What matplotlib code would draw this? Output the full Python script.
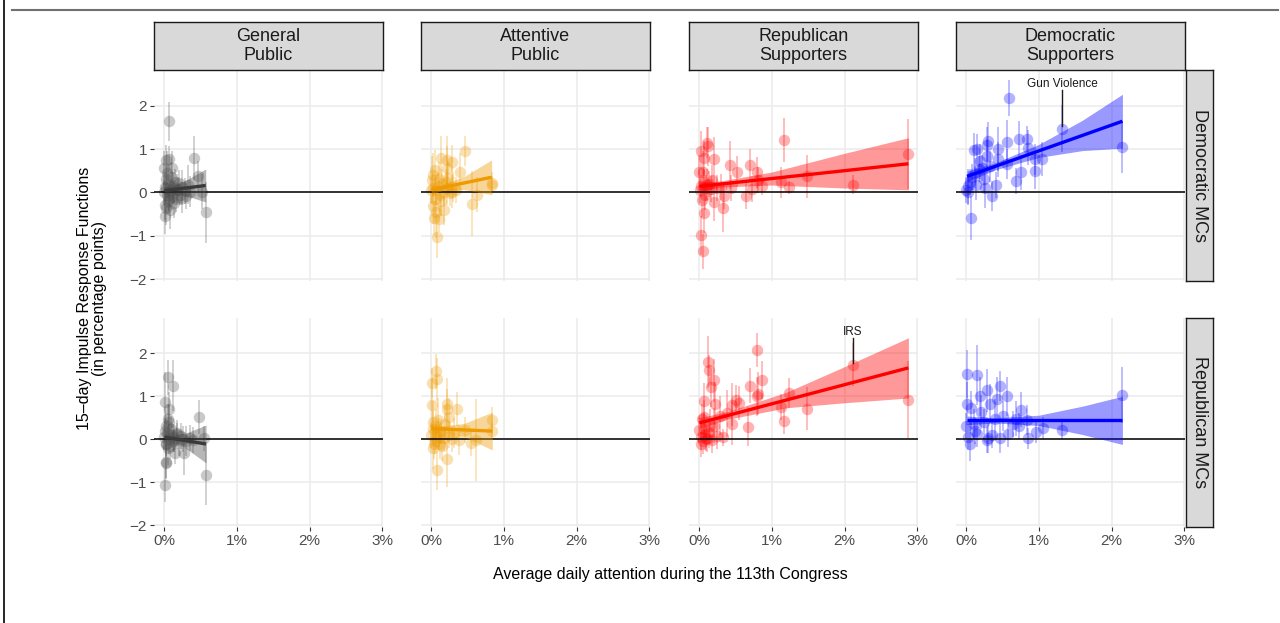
import numpy as np
import matplotlib
matplotlib.use("Agg")
import matplotlib.pyplot as plt
from matplotlib.lines import Line2D

plt.rcParams['font.family'] = ['Liberation Sans', 'DejaVu Sans']

# ---- data: average daily attention (%) vs 15-day IRF (pct points) ----
# General Public / Democratic MCs
gp_dem_x = [0.06, 0.03, 0.07, 0.00, 0.11, 0.41, 0.47, 0.57, 0.01, 0.01, 0.02, 0.04, 0.05, 0.08,
            0.10, 0.12, 0.14, 0.16, 0.18, 0.20, 0.22, 0.25, 0.28, 0.30, 0.33, 0.36, 0.02, 0.03,
            0.05, 0.09, 0.13, 0.15, 0.19, 0.24, 0.00, 0.01, 0.06, 0.08, 0.52, 0.12, 0.04, 0.07]
gp_dem_y = [1.64, 0.75, 0.77, 0.56, 0.56, 0.79, 0.38, -0.46, -0.55, -0.28, 0.10, -0.05, 0.20, 0.05,
            -0.10, 0.15, 0.00, -0.15, 0.08, 0.22, -0.05, 0.12, 0.03, -0.08, 0.18, 0.02, -0.35, 0.30,
            -0.20, 0.35, -0.25, 0.25, 0.05, -0.12, 0.00, 0.12, 0.00, -0.40, 0.02, 0.10, 0.45, -0.15]
gp_dem_se = [0.45, 0.35, 0.3, 0.4, 0.4, 0.5, 0.35, 0.7, 0.4, 0.35, 0.3, 0.3, 0.3, 0.25,
             0.3, 0.3, 0.25, 0.3, 0.35, 0.3, 0.25, 0.4, 0.3, 0.3, 0.45, 0.35, 0.4, 0.3,
             0.3, 0.35, 0.35, 0.3, 0.3, 0.35, 0.3, 0.35, 0.45, 0.45, 0.4, 0.3, 0.5, 0.3]
gp_dem_fit_x = [0.0, 0.57]
gp_dem_fit_y = [0.04, 0.16]
gp_dem_band_x = [0.0, 0.08, 0.3, 0.57]
gp_dem_band = [0.1, 0.07, 0.18, 0.38]

# Attentive Public / Democratic MCs
ap_dem_x = [0.46, 0.14, 0.21, 0.29, 0.05, 0.21, 0.39, 0.01, 0.23, 0.83, 0.84, 0.63, 0.56, 0.02,
            0.17, 0.04, 0.11, 0.08, 0.03, 0.06, 0.09, 0.12, 0.15, 0.18, 0.22, 0.26, 0.30, 0.34,
            0.02, 0.05, 0.10, 0.13, 0.20, 0.28, 0.00, 0.07]
ap_dem_y = [0.96, 0.79, 0.75, 0.69, 0.52, 0.56, 0.46, 0.28, 0.33, 0.18, 0.22, -0.05, -0.26, -0.32,
            -0.40, -0.59, -0.61, -1.02, 0.10, 0.05, 0.15, -0.05, 0.20, 0.02, 0.10, -0.02, 0.12, 0.05,
            0.40, -0.15, 0.30, -0.20, 0.25, 0.00, 0.05, -0.45]
ap_dem_se = [0.35, 0.5, 0.55, 0.4, 0.45, 0.5, 0.45, 0.55, 0.4, 0.2, 0.25, 0.4, 0.75, 0.4,
             0.35, 0.4, 0.3, 0.5, 0.3, 0.35, 0.3, 0.4, 0.35, 0.3, 0.4, 0.3, 0.35, 0.3,
             0.5, 0.45, 0.4, 0.35, 0.3, 0.35, 0.3, 0.6]
ap_dem_fit_x = [0.0, 0.83]
ap_dem_fit_y = [0.06, 0.35]
ap_dem_band_x = [0.0, 0.15, 0.45, 0.83]
ap_dem_band = [0.09, 0.07, 0.15, 0.40]

# Republican Supporters / Democratic MCs
rs_dem_x = [2.88, 1.16, 2.11, 1.49, 1.23, 1.12, 0.86, 0.80, 0.70, 0.81, 0.73, 0.64, 0.52, 0.42,
            0.44, 0.34, 0.33, 0.20, 0.11, 0.12, 0.02, 0.07, 0.00, 0.05, 0.17, 0.20, 0.07, 0.02,
            0.05, 0.04, 0.11, 0.24, 0.30, 0.01, 0.03, 0.06, 0.09, 0.14, 0.16, 0.08]
rs_dem_y = [0.88, 1.21, 0.18, 0.37, 0.12, 0.23, 0.14, 0.46, 0.64, 0.29, 0.08, -0.09, 0.48, 0.63,
            0.10, -0.08, -0.35, 0.77, 1.15, 1.06, 0.96, 0.79, 0.46, 0.46, 0.29, -0.21, -0.48, -0.99,
            -1.36, -0.17, 0.18, 0.10, 0.12, 0.05, 0.15, 0.25, 0.10, 0.20, 0.08, -0.05]
rs_dem_se = [0.8, 0.5, 0.22, 0.5, 0.15, 0.35, 0.2, 0.35, 0.35, 0.3, 0.3, 0.3, 0.35, 0.55,
             0.3, 0.3, 0.55, 0.5, 0.35, 0.45, 0.45, 0.4, 0.4, 0.5, 0.35, 0.45, 0.45, 0.45,
             0.4, 0.4, 0.35, 0.3, 0.3, 0.3, 0.25, 0.3, 0.3, 0.3, 0.3, 0.35]
rs_dem_fit_x = [0.0, 2.88]
rs_dem_fit_y = [0.14, 0.66]
rs_dem_band_x = [0.0, 0.3, 1.0, 2.0, 2.88]
rs_dem_band = [0.1, 0.07, 0.15, 0.40, 0.6]

# Democratic Supporters / Democratic MCs
ds_dem_x = [0.59, 1.32, 2.15, 0.73, 0.83, 0.56, 0.30, 0.29, 0.44, 0.10, 0.15, 0.85, 0.95, 1.04,
            0.19, 0.28, 0.56, 0.76, 0.95, 0.69, 0.41, 0.35, 0.06, 0.03, 0.00, 0.05, 0.14, 0.26,
            0.21, 0.44, 0.08, 0.12, 0.02, 0.18, 0.24, 0.33]
ds_dem_y = [2.18, 1.47, 1.04, 1.24, 1.24, 1.17, 1.18, 1.10, 1.00, 0.97, 1.00, 1.03, 0.76, 0.77,
            0.72, 0.83, 0.66, 0.46, 0.49, 0.27, 0.18, -0.08, -0.59, 0.14, 0.06, 0.25, 0.18, 0.10,
            0.56, 0.76, 0.35, 0.45, 0.00, 0.55, 0.30, 0.60]
ds_dem_se = [0.42, 0.55, 0.6, 0.4, 0.3, 0.5, 0.45, 0.4, 0.5, 0.4, 0.35, 0.4, 0.35, 0.4,
             0.4, 0.4, 0.35, 0.4, 0.4, 0.3, 0.3, 0.35, 0.5, 0.4, 0.3, 0.3, 0.35, 0.45,
             0.3, 0.4, 0.3, 0.35, 0.3, 0.3, 0.3, 0.35]
ds_dem_fit_x = [0.01, 2.15]
ds_dem_fit_y = [0.37, 1.64]
ds_dem_band_x = [0.01, 0.4, 1.0, 1.6, 2.15]
ds_dem_band = [0.12, 0.08, 0.15, 0.35, 0.62]

# General Public / Republican MCs
gp_rep_x = [0.055, 0.115, 0.01, 0.065, 0.475, 0.575, 0.01, 0.02, 0.03, 0.15, 0.27, 0.03, 0.055, 0.54,
            0.00, 0.02, 0.04, 0.06, 0.08, 0.10, 0.12, 0.14, 0.17, 0.20, 0.23, 0.26, 0.30, 0.35,
            0.40, 0.01, 0.05, 0.09, 0.13, 0.18, 0.03, 0.07]
gp_rep_y = [1.44, 1.25, 0.86, 0.71, 0.52, -0.82, -1.07, -0.56, -0.52, -0.33, -0.32, 0.32, 0.48, 0.02,
            0.05, -0.10, 0.15, 0.00, -0.15, 0.10, 0.05, -0.05, 0.12, -0.08, 0.08, 0.00, -0.05, 0.03,
            -0.02, 0.20, -0.20, 0.25, 0.00, 0.15, -0.12, 0.40]
gp_rep_se = [0.4, 0.6, 0.7, 0.4, 0.4, 0.7, 0.4, 0.35, 0.4, 0.25, 0.5, 0.3, 0.35, 0.3,
             0.3, 0.3, 0.3, 0.35, 0.3, 0.3, 0.3, 0.25, 0.25, 0.3, 0.3, 0.3, 0.35, 0.3,
             0.3, 0.3, 0.4, 0.3, 0.3, 0.3, 0.3, 0.4]
gp_rep_fit_x = [0.0, 0.575]
gp_rep_fit_y = [0.05, -0.11]
gp_rep_band_x = [0.0, 0.08, 0.3, 0.575]
gp_rep_band = [0.09, 0.06, 0.18, 0.44]

# Attentive Public / Republican MCs
ap_rep_x = [0.06, 0.08, 0.01, 0.01, 0.22, 0.21, 0.35, 0.25, 0.02, 0.84, 0.84, 0.46, 0.61, 0.55,
            0.38, 0.02, 0.22, 0.08, 0.00, 0.03, 0.05, 0.07, 0.10, 0.12, 0.14, 0.17, 0.19, 0.24,
            0.28, 0.31, 0.04, 0.09, 0.15, 0.11, 0.06]
ap_rep_y = [1.58, 1.40, 1.30, 0.79, 0.83, 0.71, 0.71, 0.52, 0.40, 0.44, 0.19, 0.22, -0.01, -0.08,
            -0.01, -0.20, -0.47, -0.72, 0.10, 0.25, -0.05, 0.30, 0.05, -0.12, 0.18, 0.02, 0.35, 0.10,
            0.00, 0.15, -0.10, 0.45, -0.15, 0.20, 0.05]
ap_rep_se = [0.4, 0.5, 0.35, 0.6, 0.6, 0.45, 0.4, 0.45, 0.5, 0.3, 0.2, 0.3, 0.95, 0.3,
             0.35, 0.5, 0.65, 0.45, 0.3, 0.4, 0.3, 0.4, 0.3, 0.35, 0.3, 0.3, 0.45, 0.3,
             0.3, 0.35, 0.35, 0.5, 0.35, 0.3, 0.3]
ap_rep_fit_x = [0.0, 0.84]
ap_rep_fit_y = [0.25, 0.19]
ap_rep_band_x = [0.0, 0.15, 0.45, 0.84]
ap_rep_band = [0.1, 0.07, 0.15, 0.44]

# Republican Supporters / Republican MCs
rs_rep_x = [0.80, 2.11, 2.88, 0.12, 0.14, 0.20, 0.16, 0.07, 0.21, 0.70, 0.86, 0.81, 0.79, 0.51,
            0.45, 1.23, 1.12, 1.49, 1.16, 0.67, 0.45, 0.04, 0.07, 0.20, 0.33, 0.00, 0.02, 0.05,
            0.08, 0.10, 0.13, 0.18, 0.25, 0.03, 0.06, 0.09, 0.15, 0.28, 0.38, 0.55]
rs_rep_y = [2.08, 1.73, 0.92, 1.79, 1.60, 1.37, 1.21, 0.90, 0.83, 1.25, 1.38, 1.06, 1.00, 0.92,
            0.80, 1.07, 0.75, 0.71, 0.42, 0.29, 0.36, 0.48, 0.52, 0.32, 0.05, 0.21, 0.05, -0.05,
            0.10, 0.00, 0.15, -0.02, 0.08, -0.12, 0.25, 0.02, 0.30, 0.55, 0.60, 0.85]
rs_rep_se = [0.4, 0.5, 0.9, 0.6, 0.35, 0.5, 0.45, 0.4, 0.5, 0.4, 0.45, 0.5, 0.45, 0.35,
             0.5, 0.35, 0.3, 0.5, 0.3, 0.45, 0.5, 0.35, 0.4, 0.4, 0.2, 0.3, 0.3, 0.3,
             0.35, 0.3, 0.35, 0.3, 0.3, 0.3, 0.35, 0.3, 0.4, 0.45, 0.55, 0.4]
rs_rep_fit_x = [0.0, 2.88]
rs_rep_fit_y = [0.38, 1.66]
rs_rep_band_x = [0.0, 0.4, 1.2, 2.0, 2.88]
rs_rep_band = [0.12, 0.09, 0.18, 0.42, 0.7]

# Democratic Supporters / Republican MCs
ds_rep_x = [0.01, 0.15, 0.28, 0.46, 0.19, 0.42, 0.56, 0.01, 0.07, 0.33, 0.20, 0.76, 2.15, 0.69,
            0.83, 0.40, 0.73, 0.00, 1.05, 1.32, 0.96, 0.58, 0.85, 0.46, 0.30, 0.05, 0.28, 0.15,
            0.10, 0.24, 0.36, 0.03, 0.50, 0.12, 0.64]
ds_rep_y = [1.52, 1.50, 1.14, 1.23, 1.00, 0.94, 1.00, 0.83, 0.73, 0.83, 0.63, 0.69, 1.04, 0.48,
            0.44, 0.48, 0.30, 0.30, 0.26, 0.21, 0.17, 0.13, 0.02, 0.02, 0.02, -0.10, -0.02, 0.12,
            0.35, 0.40, 0.10, 0.05, 0.55, 0.20, 0.35]
ds_rep_se = [0.55, 0.7, 0.5, 0.35, 0.45, 0.5, 0.45, 0.5, 0.4, 0.45, 0.4, 0.4, 0.65, 0.4,
             0.35, 0.45, 0.3, 0.3, 0.25, 0.2, 0.25, 0.3, 0.25, 0.35, 0.35, 0.4, 0.3, 0.3,
             0.35, 0.3, 0.3, 0.3, 0.35, 0.3, 0.3]
ds_rep_fit_x = [0.01, 2.15]
ds_rep_fit_y = [0.44, 0.44]
ds_rep_band_x = [0.01, 0.4, 1.0, 1.6, 2.15]
ds_rep_band = [0.1, 0.06, 0.12, 0.33, 0.56]

col_labels = ['General\nPublic', 'Attentive\nPublic', 'Republican\nSupporters', 'Democratic\nSupporters']
row_labels = ['Democratic MCs', 'Republican MCs']
col_colors = ['#4d4d4d', '#EE9A00', '#FF0000', '#0000FF']
line_colors = ['#3a3a3a', '#EE9A00', '#FF0000', '#0000FF']

# labelled issues: (row, col, x, y, text)
labels = [(0, 3, 1.32, 1.47, 'Gun Violence'), (1, 2, 2.11, 1.73, 'IRS')]

panels = {
    (0, 0): (gp_dem_x, gp_dem_y, gp_dem_se, gp_dem_fit_x, gp_dem_fit_y, gp_dem_band_x, gp_dem_band),
    (0, 1): (ap_dem_x, ap_dem_y, ap_dem_se, ap_dem_fit_x, ap_dem_fit_y, ap_dem_band_x, ap_dem_band),
    (0, 2): (rs_dem_x, rs_dem_y, rs_dem_se, rs_dem_fit_x, rs_dem_fit_y, rs_dem_band_x, rs_dem_band),
    (0, 3): (ds_dem_x, ds_dem_y, ds_dem_se, ds_dem_fit_x, ds_dem_fit_y, ds_dem_band_x, ds_dem_band),
    (1, 0): (gp_rep_x, gp_rep_y, gp_rep_se, gp_rep_fit_x, gp_rep_fit_y, gp_rep_band_x, gp_rep_band),
    (1, 1): (ap_rep_x, ap_rep_y, ap_rep_se, ap_rep_fit_x, ap_rep_fit_y, ap_rep_band_x, ap_rep_band),
    (1, 2): (rs_rep_x, rs_rep_y, rs_rep_se, rs_rep_fit_x, rs_rep_fit_y, rs_rep_band_x, rs_rep_band),
    (1, 3): (ds_rep_x, ds_rep_y, ds_rep_se, ds_rep_fit_x, ds_rep_fit_y, ds_rep_band_x, ds_rep_band),
}

# ---- layout (pixels) ----
W, H = 1280, 623
col_left = [154, 421, 689, 956]
panel_w = 229
row_top = [70, 318]
row_h = [211, 209]
strip_top, strip_h = 22, 48
rstrip_left, rstrip_w = 1186, 27


def rect(l, t, w, h):
    return [l / W, 1 - (t + h) / H, w / W, h / H]


def strip_axes(r, text, rot):
    ax = fig.add_axes(r)
    ax.set_facecolor('#d9d9d9')
    ax.set_xticks([])
    ax.set_yticks([])
    for s in ax.spines.values():
        s.set_color('#1a1a1a')
        s.set_linewidth(1.0)
    ax.text(0.5, 0.5, text, ha='center', va='center', rotation=rot, fontsize=13,
            color='#1a1a1a', linespacing=1.12, transform=ax.transAxes)
    return ax


fig = plt.figure(figsize=(W / 100, H / 100), dpi=100)

for (r, c), (x, y, se, fx, fy, bx, bh) in panels.items():
    ax = fig.add_axes(rect(col_left[c], row_top[r], panel_w, row_h[r]))
    x = np.array(x)
    y = np.array(y)
    se = np.array(se)
    col = col_colors[c]

    ax.vlines(x, y - se, y + se, color=col, alpha=0.3, lw=1.2, zorder=2)
    ax.scatter(x, y, s=68, color=col, alpha=0.3, lw=0, zorder=2.1)
    ax.axhline(0, color='black', lw=1.1, zorder=2.2)

    bx = np.array(bx)
    mid = np.interp(bx, fx, fy)
    ax.fill_between(bx, mid - np.array(bh), mid + np.array(bh), color=col, alpha=0.4, lw=0, zorder=2.3)
    ax.plot(fx, fy, color=line_colors[c], lw=2.4, solid_capstyle='butt', zorder=2.4)

    for lr, lc, lx, ly, txt in labels:
        if lr == r and lc == c:
            ax.plot([lx, lx], [ly + 0.05, 2.36], color='#1a1a1a', lw=1.0, zorder=3)
            ax.text(lx, 2.5, txt, ha='center', va='center', fontsize=8.5, color='#1a1a1a')

    ax.set_xlim(-0.142, 3.012)
    ax.set_ylim(-2.04, 2.82)
    ax.set_xticks([0, 1, 2, 3])
    ax.set_yticks([-2, -1, 0, 1, 2])
    ax.grid(color='#ebebeb', lw=1.1)
    ax.set_axisbelow(True)
    for s in ax.spines.values():
        s.set_visible(False)
    ax.tick_params(length=3, width=0.8, color='#333333', labelcolor='#4d4d4d',
                   labelsize=11, pad=2)
    if c == 0:
        ax.set_yticklabels(['\u22122', '\u22121', '0', '1', '2'])
    else:
        ax.tick_params(axis='y', left=False, labelleft=False)
    if r == 1:
        ax.set_xticklabels(['0%', '1%', '2%', '3%'])
    else:
        ax.tick_params(axis='x', bottom=False, labelbottom=False)

for c, lab in enumerate(col_labels):
    strip_axes(rect(col_left[c], strip_top, panel_w, strip_h), lab, 0)
for r, lab in enumerate(row_labels):
    strip_axes(rect(rstrip_left, row_top[r], rstrip_w, row_h[r]), lab, -90)

fig.text(92 / W, 1 - 298.5 / H, '15\u2013day Impulse Response Functions\n(in percentage points)',
         rotation=90, ha='center', va='center', multialignment='center', fontsize=11.5,
         linespacing=0.95, color='black')
fig.text(670 / W, 1 - 575 / H, 'Average daily attention during the 113th Congress',
         ha='center', va='center', fontsize=11.5, color='black')

# page frame lines
fig.add_artist(Line2D([12 / W, 1278 / W], [1 - 9.5 / H, 1 - 9.5 / H], color='#707070', lw=1.5))
fig.add_artist(Line2D([3.5 / W, 3.5 / W], [0, 1], color='black', lw=1.2))

fig.savefig('out.png', dpi=100)
